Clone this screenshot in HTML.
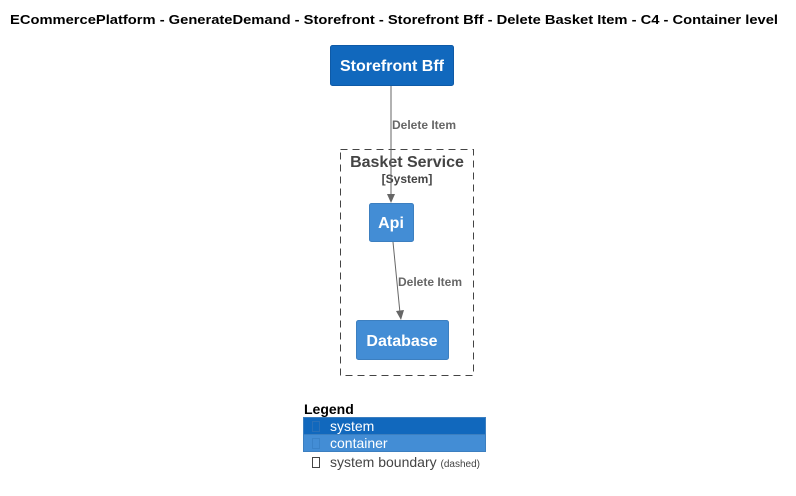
<!DOCTYPE html>
<html><head><meta charset="utf-8"><style>
html,body{margin:0;padding:0;background:#fff;width:796px;height:496px;overflow:hidden}
svg{position:absolute;left:0;top:0}
text{font-family:"Liberation Sans",sans-serif}
</style></head><body>
<svg width="796" height="496" viewBox="0 0 796 496">
<text x="10" y="24" font-size="13" font-weight="bold" fill="#000" textLength="768" lengthAdjust="spacingAndGlyphs">ECommercePlatform - GenerateDemand - Storefront - Storefront Bff - Delete Basket Item - C4 - Container level</text>
<rect x="330.5" y="45.5" width="123" height="40" rx="2" fill="#1168bd" stroke="#0e5aa7"/>
<text x="392" y="71" text-anchor="middle" font-size="16" font-weight="bold" fill="#fff">Storefront Bff</text>
<rect x="340.5" y="149.5" width="133" height="226" fill="none" stroke="#444" stroke-dasharray="7,5"/>
<text x="407" y="167" text-anchor="middle" font-size="16" font-weight="bold" fill="#444">Basket Service</text>
<text x="407" y="183" text-anchor="middle" font-size="12" font-weight="bold" fill="#444">[System]</text>
<line x1="391" y1="86" x2="391" y2="196" stroke="#666" stroke-width="1"/>
<polygon points="387,194 395,194 391,203" fill="#666"/>
<text x="392" y="129" font-size="12" font-weight="bold" fill="#666">Delete Item</text>
<rect x="369.5" y="203.5" width="44" height="38" rx="2" fill="#438dd5" stroke="#3c7fc0"/>
<text x="391" y="228" text-anchor="middle" font-size="16" font-weight="bold" fill="#fff">Api</text>
<line x1="393" y1="242" x2="400" y2="313" stroke="#666" stroke-width="1"/>
<polygon points="396,311 404,310 401,320" fill="#666"/>
<text x="398" y="286" font-size="12" font-weight="bold" fill="#666">Delete Item</text>
<rect x="356.5" y="320.5" width="92" height="39" rx="2" fill="#438dd5" stroke="#3c7fc0"/>
<text x="402" y="346" text-anchor="middle" font-size="16" font-weight="bold" fill="#fff">Database</text>
<text x="304" y="414" font-size="14" font-weight="bold" fill="#000">Legend</text>
<rect x="303.5" y="417.5" width="182" height="17" fill="#1168bd" stroke="#3c7fc0"/>
<rect x="303.5" y="434.5" width="182" height="17" fill="#438dd5" stroke="#3c7fc0"/>
<rect x="312.5" y="421.5" width="7" height="10" fill="none" stroke="#2a70b8"/>
<rect x="312.5" y="438.5" width="7" height="10" fill="none" stroke="#3a82c8"/>
<rect x="312.5" y="457.5" width="7" height="10" fill="none" stroke="#444"/>
<text x="330" y="431" font-size="14" fill="#fff">system</text>
<text x="330" y="448" font-size="14" fill="#fff">container</text>
<text x="330" y="467" font-size="14" fill="#444">system boundary <tspan font-size="10">(dashed)</tspan></text>
</svg>
</body></html>
